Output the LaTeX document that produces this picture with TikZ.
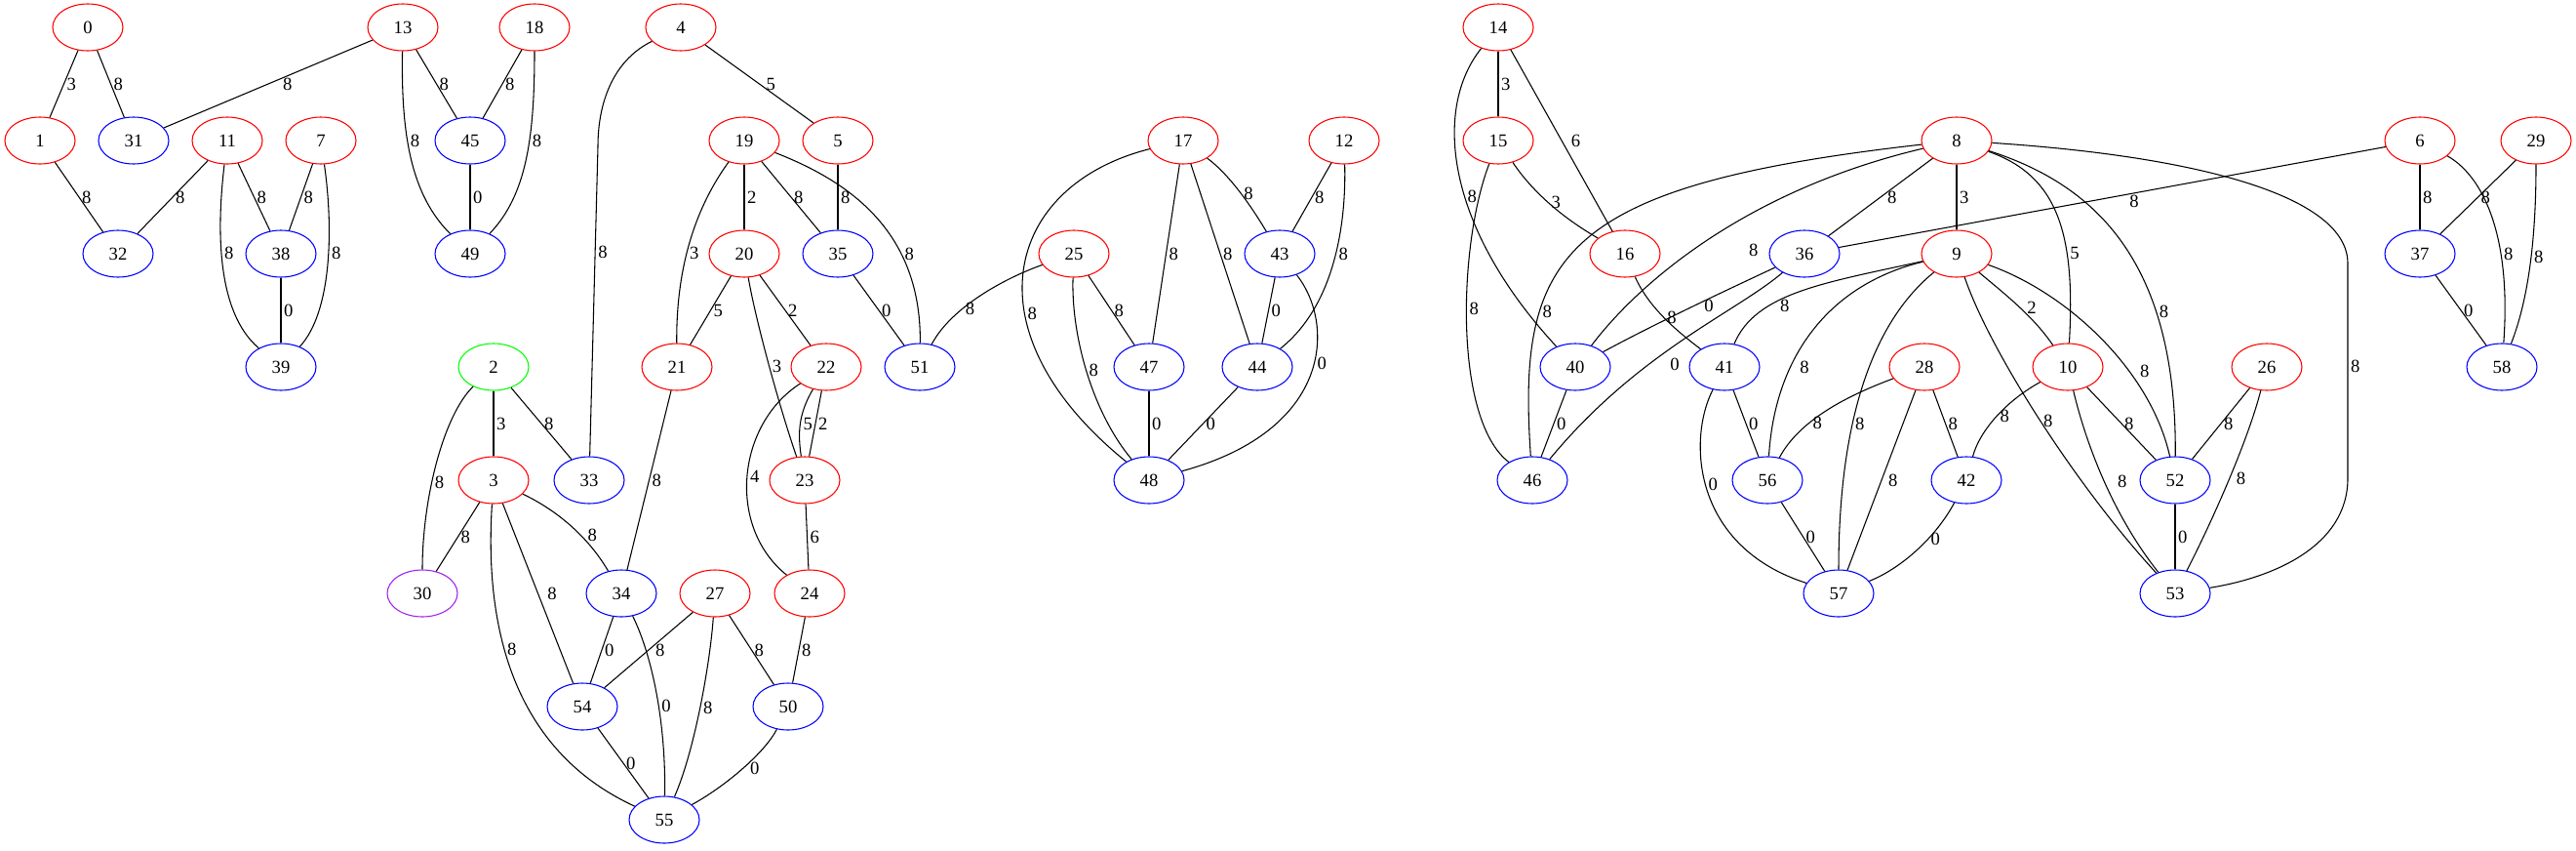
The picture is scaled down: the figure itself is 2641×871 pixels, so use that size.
\documentclass[tikz,border=0pt]{standalone}
\usepackage{fontspec}
\setmainfont{Liberation Serif}
\usepackage{xcolor}
\usepackage{tikz}
\usetikzlibrary{shapes.geometric}
\definecolor{gvred}{HTML}{FF0000}
\definecolor{gvblue}{HTML}{0000FF}
\definecolor{gvgreen}{HTML}{00FF00}
\definecolor{gvpurple}{HTML}{A020F0}

\begin{document}
\begin{tikzpicture}[
    x=0.75pt, y=-0.75pt,
    vtx/.style={ellipse, draw, line width=0.8pt, minimum width=54pt, minimum height=36pt, inner sep=0pt, font=\fontsize{14}{17}\selectfont},
    edge/.style={line width=0.8pt, black},
    lbl/.style={inner sep=2pt, font=\fontsize{14}{17}\selectfont}
]
\useasboundingbox (0,0) rectangle (2641,871);

\node[vtx, draw=gvred] (n0) at (90,28) {0};
\node[vtx, draw=gvred] (n13) at (413,28) {13};
\node[vtx, draw=gvred] (n18) at (548,28) {18};
\node[vtx, draw=gvred] (n4) at (698,28) {4};
\node[vtx, draw=gvred] (n14) at (1536,28) {14};

\node[vtx, draw=gvred] (n1) at (41,144) {1};
\node[vtx, draw=gvblue] (n31) at (137,144) {31};
\node[vtx, draw=gvred] (n11) at (233,144) {11};
\node[vtx, draw=gvred] (n7) at (329,144) {7};
\node[vtx, draw=gvblue] (n45) at (482,144) {45};
\node[vtx, draw=gvred] (n19) at (763,144) {19};
\node[vtx, draw=gvred] (n5) at (859,144) {5};
\node[vtx, draw=gvred] (n17) at (1213,144) {17};
\node[vtx, draw=gvred] (n12) at (1378,144) {12};
\node[vtx, draw=gvred] (n15) at (1536,144) {15};
\node[vtx, draw=gvred] (n8) at (2006,144) {8};
\node[vtx, draw=gvred] (n6) at (2481,144) {6};
\node[vtx, draw=gvred] (n29) at (2600,144) {29};

\node[vtx, draw=gvblue] (n32) at (121,260) {32};
\node[vtx, draw=gvblue] (n38) at (288,260) {38};
\node[vtx, draw=gvblue] (n49) at (482,260) {49};
\node[vtx, draw=gvred] (n20) at (763,260) {20};
\node[vtx, draw=gvblue] (n35) at (859,260) {35};
\node[vtx, draw=gvred] (n25) at (1101,260) {25};
\node[vtx, draw=gvblue] (n43) at (1312,260) {43};
\node[vtx, draw=gvred] (n16) at (1666,260) {16};
\node[vtx, draw=gvblue] (n36) at (1850,260) {36};
\node[vtx, draw=gvred] (n9) at (2006,260) {9};
\node[vtx, draw=gvblue] (n37) at (2481,260) {37};

\node[vtx, draw=gvblue] (n39) at (288,376) {39};
\node[vtx, draw=gvgreen] (n2) at (506,376) {2};
\node[vtx, draw=gvred] (n21) at (694,376) {21};
\node[vtx, draw=gvred] (n22) at (847,376) {22};
\node[vtx, draw=gvblue] (n51) at (943,376) {51};
\node[vtx, draw=gvblue] (n47) at (1178,376) {47};
\node[vtx, draw=gvblue] (n44) at (1289,376) {44};
\node[vtx, draw=gvblue] (n40) at (1615,376) {40};
\node[vtx, draw=gvblue] (n41) at (1768,376) {41};
\node[vtx, draw=gvred] (n28) at (1973,376) {28};
\node[vtx, draw=gvred] (n10) at (2120,376) {10};
\node[vtx, draw=gvred] (n26) at (2324,376) {26};
\node[vtx, draw=gvblue] (n58) at (2565,376) {58};

\node[vtx, draw=gvred] (n3) at (506,492) {3};
\node[vtx, draw=gvblue] (n33) at (604,492) {33};
\node[vtx, draw=gvred] (n23) at (825,492) {23};
\node[vtx, draw=gvblue] (n48) at (1178,492) {48};
\node[vtx, draw=gvblue] (n46) at (1571,492) {46};
\node[vtx, draw=gvblue] (n56) at (1812,492) {56};
\node[vtx, draw=gvblue] (n42) at (2016,492) {42};
\node[vtx, draw=gvblue] (n52) at (2230,492) {52};

\node[vtx, draw=gvpurple] (n30) at (433,608) {30};
\node[vtx, draw=gvblue] (n34) at (637,608) {34};
\node[vtx, draw=gvred] (n27) at (733,608) {27};
\node[vtx, draw=gvred] (n24) at (830,608) {24};
\node[vtx, draw=gvblue] (n57) at (1885,608) {57};
\node[vtx, draw=gvblue] (n53) at (2230,608) {53};

\node[vtx, draw=gvblue] (n54) at (597,724) {54};
\node[vtx, draw=gvblue] (n50) at (808,724) {50};

\node[vtx, draw=gvblue] (n55) at (681,840) {55};

\draw[edge] (n0) -- node[lbl, right] {3} (n1);
\draw[edge] (n0) -- node[lbl, right] {8} (n31);
\draw[edge] (n13) -- node[lbl, right=9pt] {8} (n31);
\draw[edge] (n1) -- node[lbl, right] {8} (n32);
\draw[edge] (n11) -- node[lbl, right] {8} (n32);
\draw[edge] (n11) -- node[lbl, right] {8} (n38);
\draw[edge] (n7) -- node[lbl, right] {8} (n38);
\draw[edge] (n11) .. controls (222,235) and (222,320) .. node[lbl, pos=0.43, right] {8} (n39);
\draw[edge] (n7) .. controls (342,235) and (340,320) .. node[lbl, pos=0.43, right] {8} (n39);
\draw[edge] (n38) -- node[lbl, right] {0} (n39);
\draw[edge] (n13) -- node[lbl, right] {8} (n45);
\draw[edge] (n18) -- node[lbl, right] {8} (n45);
\draw[edge] (n13) .. controls (411,140) and (422,200) .. node[lbl, pos=0.4, right] {8} (n49);
\draw[edge] (n18) .. controls (548,140) and (540,200) .. node[lbl, pos=0.4, right] {8} (n49);
\draw[edge] (n45) -- node[lbl, right] {0} (n49);

\draw[edge] (n4) -- node[lbl, right=3pt] {5} (n5);
\draw[edge] (n4) .. controls (632,60) and (613,100) .. (613,150) -- node[lbl, pos=0.34, right] {8} (n33);
\draw[edge] (n19) -- node[lbl, right] {2} (n20);
\draw[edge] (n19) -- node[lbl, right] {8} (n35);
\draw[edge] (n5) -- node[lbl, right] {8} (n35);
\draw[edge] (n19) .. controls (860,182) and (945,230) .. node[lbl, pos=0.7, right] {8} (n51);
\draw[edge] (n19) .. controls (715,210) and (693,270) .. node[lbl, pos=0.58, right] {3} (n21);
\draw[edge] (n20) -- node[lbl, right] {5} (n21);
\draw[edge] (n20) -- node[lbl, right] {2} (n22);
\draw[edge] (n20) .. controls (775,330) and (800,420) .. node[lbl, pos=0.5, right] {3} (n23);
\draw[edge] (n35) -- node[lbl, right] {0} (n51);
\draw[edge] (n25) .. controls (1030,285) and (975,315) .. node[lbl, pos=0.65, right] {8} (n51);
\draw[edge] (n22) .. controls (818,425) and (818,445) .. node[lbl, pos=0.5, right] {5} (n23);
\draw[edge] (n22) -- node[lbl, right] {2} (n23);
\draw[edge] (n22) .. controls (755,435) and (745,540) .. node[lbl, pos=0.5, right] {4} (n24);
\draw[edge] (n23) -- node[lbl, right] {6} (n24);
\draw[edge] (n2) -- node[lbl, right] {3} (n3);
\draw[edge] (n2) -- node[lbl, right] {8} (n33);
\draw[edge] (n2) .. controls (455,425) and (433,510) .. node[lbl, pos=0.6, right] {8} (n30);
\draw[edge] (n3) -- node[lbl, right] {8} (n30);
\draw[edge] (n3) .. controls (565,520) and (600,545) .. node[lbl, pos=0.65, right=3pt] {8} (n34);
\draw[edge] (n3) -- node[lbl, right=5pt] {8} (n54);
\draw[edge] (n3) .. controls (494,680) and (550,780) .. node[lbl, pos=0.35, right] {8} (n55);
\draw[edge] (n21) -- node[lbl, right] {8} (n34);
\draw[edge] (n34) -- node[lbl, right] {0} (n54);
\draw[edge] (n34) .. controls (668,670) and (683,740) .. node[lbl, pos=0.57, right] {0} (n55);
\draw[edge] (n27) -- node[lbl, right=3pt] {8} (n54);
\draw[edge] (n27) .. controls (728,680) and (712,770) .. node[lbl, pos=0.5, right] {8} (n55);
\draw[edge] (n27) -- node[lbl, right] {8} (n50);
\draw[edge] (n24) -- node[lbl, right] {8} (n50);
\draw[edge] (n54) -- node[lbl, right] {0} (n55);
\draw[edge] (n50) .. controls (785,770) and (745,805) .. node[lbl, pos=0.5, right=3pt] {0} (n55);

\draw[edge] (n17) .. controls (1030,190) and (990,340) .. node[lbl, pos=0.62, right] {8} (n48);
\draw[edge] (n17) -- node[lbl, right] {8} (n47);
\draw[edge] (n17) -- node[lbl, right] {8} (n44);
\draw[edge] (n17) .. controls (1262,180) and (1285,215) .. node[lbl, pos=0.5, right] {8} (n43);
\draw[edge] (n25) -- node[lbl, right] {8} (n47);
\draw[edge] (n25) .. controls (1098,340) and (1118,420) .. node[lbl, pos=0.5, right] {8} (n48);
\draw[edge] (n47) -- node[lbl, right] {0} (n48);
\draw[edge] (n12) -- node[lbl, right] {8} (n43);
\draw[edge] (n12) .. controls (1380,220) and (1372,310) .. node[lbl, pos=0.48, right] {8} (n44);
\draw[edge] (n43) -- node[lbl, right] {0} (n44);
\draw[edge] (n44) -- node[lbl, right] {0} (n48);
\draw[edge] (n43) .. controls (1368,330) and (1368,440) .. node[lbl, pos=0.45, right] {0} (n48);

\draw[edge] (n14) -- node[lbl, right] {3} (n15);
\draw[edge] (n14) -- node[lbl, right=5pt] {6} (n16);
\draw[edge] (n14) .. controls (1470,110) and (1480,230) .. node[lbl, pos=0.57, right] {8} (n40);
\draw[edge] (n15) .. controls (1570,195) and (1600,222) .. node[lbl, pos=0.5, right] {3} (n16);
\draw[edge] (n15) .. controls (1495,250) and (1490,430) .. node[lbl, pos=0.45, right] {8} (n46);
\draw[edge] (n16) .. controls (1690,315) and (1720,340) .. node[lbl, pos=0.5, right] {8} (n41);
\draw[edge] (n8) .. controls (1600,190) and (1555,260) .. node[lbl, pos=0.71, right] {8} (n46);
\draw[edge] (n8) .. controls (1790,195) and (1680,290) .. node[lbl, pos=0.55, right=41pt] {8} (n40);
\draw[edge] (n8) -- node[lbl, right=3pt] {8} (n36);
\draw[edge] (n8) -- node[lbl, right] {3} (n9);
\draw[edge] (n8) .. controls (2110,180) and (2128,240) .. node[lbl, pos=0.68, right] {5} (n10);
\draw[edge] (n8) .. controls (2150,190) and (2232,270) .. node[lbl, pos=0.7, right] {8} (n52);
\draw[edge] (n8) .. controls (2250,160) and (2407,200) .. (2407,270) -- node[lbl, pos=0.48, right] {8} (2407,490) .. controls (2407,560) and (2330,592) .. (n53);
\draw[edge] (n6) -- node[lbl, pos=0.46, below=-1pt] {8} (n36);
\draw[edge] (n6) -- node[lbl, right] {8} (n37);
\draw[edge] (n6) .. controls (2545,180) and (2575,240) .. node[lbl, pos=0.68, right] {8} (n58);
\draw[edge] (n29) -- node[lbl, right] {8} (n37);
\draw[edge] (n29) .. controls (2600,230) and (2595,300) .. node[lbl, pos=0.5, right] {8} (n58);
\draw[edge] (n37) -- node[lbl, right] {0} (n58);
\draw[edge] (n36) .. controls (1775,295) and (1700,330) .. node[lbl, pos=0.5, right=6pt] {0} (n40);
\draw[edge] (n36) .. controls (1780,320) and (1680,360) .. node[lbl, pos=0.63, right=14pt] {0} (n46);
\draw[edge] (n40) -- node[lbl, right] {0} (n46);
\draw[edge] (n9) .. controls (1870,290) and (1800,300) .. node[lbl, pos=0.58, below=-1pt] {8} (n41);
\draw[edge] (n9) .. controls (1880,290) and (1820,360) .. node[lbl, pos=0.68, right=5pt] {8} (n56);
\draw[edge] (n9) .. controls (1920,330) and (1885,430) .. node[lbl, pos=0.63, right] {8} (n57);
\draw[edge] (n9) .. controls (2040,360) and (2130,500) .. node[lbl, pos=0.5, right] {8} (n53);
\draw[edge] (n9) .. controls (2060,305) and (2085,325) .. node[lbl, pos=0.5, right=3pt] {2} (n10);
\draw[edge] (n9) .. controls (2120,300) and (2205,380) .. node[lbl, pos=0.65, right=6pt] {8} (n52);
\draw[edge] (n41) -- node[lbl, right] {0} (n56);
\draw[edge] (n41) .. controls (1730,450) and (1735,560) .. node[lbl, pos=0.47, right] {0} (n57);
\draw[edge] (n28) .. controls (1895,405) and (1845,430) .. node[lbl, pos=0.65, right] {8} (n56);
\draw[edge] (n28) -- node[lbl, right=3pt] {8} (n57);
\draw[edge] (n28) -- node[lbl, right] {8} (n42);
\draw[edge] (n10) .. controls (2058,410) and (2030,440) .. node[lbl, pos=0.5, right] {8} (n42);
\draw[edge] (n10) -- node[lbl, right] {8} (n52);
\draw[edge] (n10) .. controls (2135,440) and (2160,520) .. node[lbl, pos=0.55, right=8pt] {8} (n53);
\draw[edge] (n26) -- node[lbl, right] {8} (n52);
\draw[edge] (n26) .. controls (2305,450) and (2270,530) .. node[lbl, pos=0.5, right=3pt] {8} (n53);
\draw[edge] (n52) -- node[lbl, right] {0} (n53);
\draw[edge] (n56) -- node[lbl, right] {0} (n57);
\draw[edge] (n42) .. controls (1985,550) and (1950,582) .. node[lbl, pos=0.38, right] {0} (n57);
\end{tikzpicture}
\end{document}
